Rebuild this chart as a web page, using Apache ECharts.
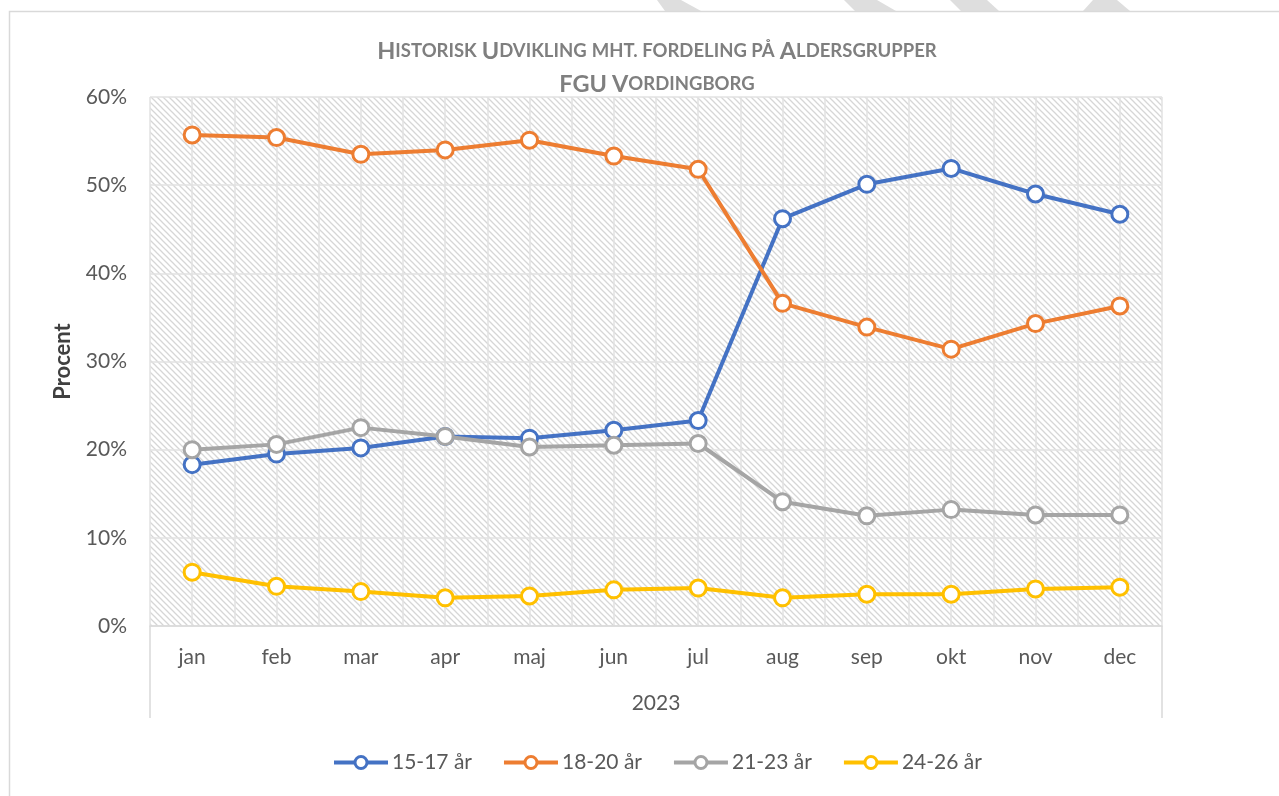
<!DOCTYPE html>
<html>
<head>
<meta charset="utf-8">
<script src="https://cdn.jsdelivr.net/npm/echarts@6/dist/echarts.min.js"></script>
<style>
  html, body { margin: 0; padding: 0; background: #fff; }
  #chart { width: 1279px; height: 796px; }
</style>
</head>
<body>
<div id="chart"></div>
<script>
// data
const months = ['jan', 'feb', 'mar', 'apr', 'maj', 'jun', 'jul', 'aug', 'sep', 'okt', 'nov', 'dec'];
const yearLabel = ['2023'];
const yTicks = [0, 10, 20, 30, 40, 50, 60];

const age15_17 = [18.3, 19.5, 20.2, 21.5, 21.3, 22.2, 23.3, 46.2, 50.1, 51.9, 49.0, 46.7];
const age18_20 = [55.7, 55.4, 53.5, 54.0, 55.1, 53.3, 51.8, 36.6, 33.9, 31.4, 34.3, 36.3];
const age21_23 = [20.0, 20.6, 22.5, 21.5, 20.3, 20.5, 20.7, 14.1, 12.5, 13.2, 12.6, 12.6];
const age24_26 = [6.1, 4.5, 3.9, 3.2, 3.4, 4.1, 4.3, 3.2, 3.6, 3.6, 4.2, 4.4];

const seriesNames = ['15-17 år', '18-20 år', '21-23 år', '24-26 år'];
const colors = ['#4472C4', '#ED7D31', '#A5A5A5', '#FFC000'];

// half-month slots, only used to draw the fine vertical grid
const halfSlots = [];
months.forEach(function (m) { halfSlots.push(m + '-a', m + '-b'); });

// diagonal hatch for the plot area
function hatch() {
  const c = document.createElement('canvas');
  c.width = 6; c.height = 6;
  const ctx = c.getContext('2d');
  ctx.fillStyle = '#ffffff';
  ctx.fillRect(0, 0, 6, 6);
  ctx.strokeStyle = '#d6d6d6';
  ctx.lineWidth = 1.3;
  ctx.beginPath();
  ctx.moveTo(-1, -1); ctx.lineTo(7, 7);
  ctx.moveTo(-4, 2); ctx.lineTo(4, 10);
  ctx.moveTo(2, -4); ctx.lineTo(10, 4);
  ctx.stroke();
  return c;
}

const FONT = 'Lato, "Open Sans", sans-serif';
const txt = '#595959';

// bits of page decoration peeking above the chart frame
function band(pts) {
  return { type: 'polygon', shape: { points: pts }, style: { fill: '#dedede' }, silent: true };
}

const chart = echarts.init(document.getElementById('chart'));

const lineSeries = [age15_17, age18_20, age21_23, age24_26].map(function (d, i) {
  return {
    name: seriesNames[i],
    type: 'line',
    data: d,
    xAxisIndex: 0,
    symbol: 'circle',
    symbolSize: 16,
    lineStyle: { width: 4, color: colors[i] },
    itemStyle: { color: '#fff', borderColor: colors[i], borderWidth: 3 },
    z: 3 + i
  };
});

chart.setOption({
  animation: false,
  color: colors,
  graphic: [
    band([[657, 0], [681, 0], [701, 11], [665, 11]]),
    band([[844, 0], [877, 0], [896, 11], [855, 11]]),
    band([[950, 0], [987, 0], [999, 11], [961, 11]]),
    band([[1093, 0], [1117, 0], [1130, 11], [1083, 11]]),
    {
      type: 'rect',
      shape: { x: 9.5, y: 11.5, width: 1300, height: 900 },
      style: { fill: 'none', stroke: '#d9d9d9', lineWidth: 1.5 },
      silent: true
    }
  ],
  title: {
    left: 652,
    textAlign: 'center',
    top: 30,
    text: '{b|H}{s|ISTORISK} {b|U}{s|DVIKLING} {s|MHT. FORDELING PÅ} {b|A}{s|LDERSGRUPPER}\n{b|FGU} {b|V}{s|ORDINGBORG}',
    textStyle: {
      lineHeight: 33,
      rich: {
        b: { fontFamily: FONT, fontWeight: 'bold', fontSize: 23.5, color: '#7f7f7f', lineHeight: 33 },
        s: { fontFamily: FONT, fontWeight: 'bold', fontSize: 18.5, color: '#7f7f7f', lineHeight: 33 }
      }
    }
  },
  legend: {
    bottom: 18,
    left: 327,
    itemWidth: 54,
    itemHeight: 15,
    itemGap: 30,
    data: seriesNames,
    lineStyle: { width: 4 },
    itemStyle: { color: '#fff', borderWidth: 3 },
    textStyle: { fontFamily: FONT, fontSize: 21, color: txt, padding: [0, 0, 0, -1] }
  },
  grid: {
    left: 150,
    right: 117,
    top: 97,
    bottom: 170,
    show: true,
    borderWidth: 0,
    backgroundColor: { image: hatch(), repeat: 'repeat' }
  },
  xAxis: [
    {
      type: 'category',
      data: months,
      boundaryGap: true,
      axisLine: { lineStyle: { color: '#d9d9d9', width: 1.5 } },
      axisTick: { show: false },
      splitLine: { show: false },
      axisLabel: { fontFamily: FONT, fontSize: 21, color: txt, margin: 21 }
    },
    {
      type: 'category',
      data: halfSlots,
      position: 'bottom',
      boundaryGap: true,
      axisLine: { show: false },
      axisTick: { show: false },
      axisLabel: { show: false },
      splitLine: { show: true, interval: 0, lineStyle: { color: '#e2e2e2', width: 1.5 } }
    },
    {
      type: 'category',
      data: yearLabel,
      position: 'bottom',
      boundaryGap: true,
      axisLine: { show: false },
      axisTick: { show: true, length: 92, lineStyle: { color: '#d9d9d9', width: 1.5 } },
      axisLabel: { fontFamily: FONT, fontSize: 21, color: txt, margin: 67 },
      splitLine: { show: false }
    }
  ],
  yAxis: {
    type: 'value',
    min: yTicks[0],
    max: yTicks[yTicks.length - 1],
    interval: 10,
    name: 'Procent',
    nameLocation: 'middle',
    nameGap: 76,
    nameRotate: 90,
    nameTextStyle: { fontFamily: FONT, fontSize: 22, fontWeight: 'bold', color: '#404040' },
    axisLine: { show: false },
    axisTick: { show: false },
    axisLabel: { fontFamily: FONT, fontSize: 21, color: txt, margin: 23, formatter: '{value}%' },
    splitLine: { show: true, lineStyle: { color: '#e2e2e2', width: 1.5 } }
  },
  series: lineSeries
});
</script>
</body>
</html>
